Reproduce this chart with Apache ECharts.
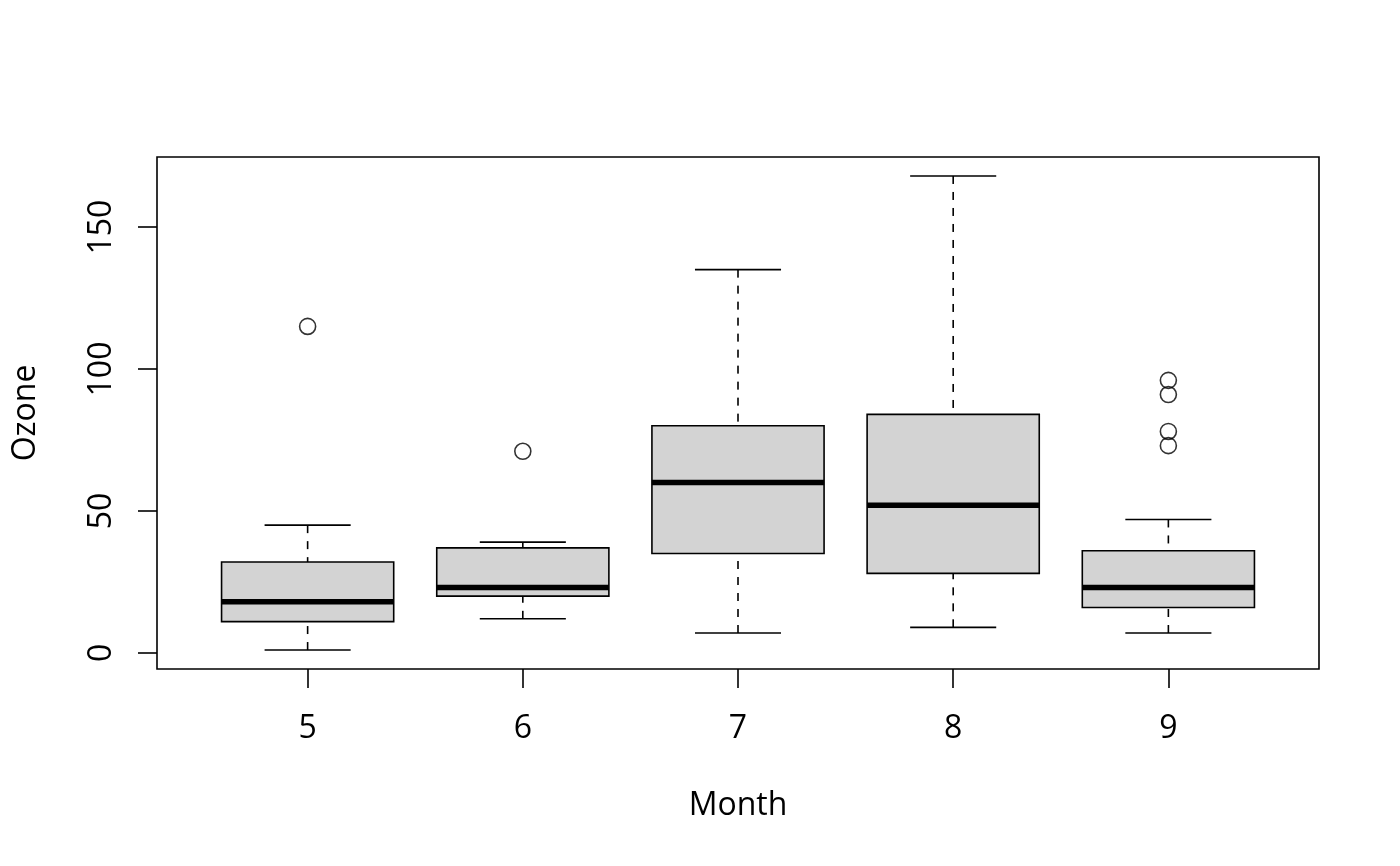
<!DOCTYPE html>
<html>
<head>
<meta charset="utf-8">
<title>Ozone by Month</title>
<script src="https://cdn.jsdelivr.net/npm/echarts@6/dist/echarts.min.js"></script>
<style>
  html, body { margin: 0; padding: 0; background: #fff; }
  #chart { width: 1400px; height: 866px; }
</style>
</head>
<body>
<div id="chart"></div>
<script>
// airquality: Ozone ~ Month
var months = ['5', '6', '7', '8', '9'];
var lowerWhisker = [1, 12, 7, 9, 7];
var q1 = [11, 20, 35, 28, 16];
var median = [18, 23, 60, 52, 23];
var q3 = [32, 37, 80, 84, 36];
var upperWhisker = [45, 39, 135, 168, 47];
// [month index (1-based), value]
var outliers = [[1, 115], [2, 71], [5, 96], [5, 91], [5, 78], [5, 73]];
var yTicks = [0, 50, 100, 150];

var chart = echarts.init(document.getElementById('chart'));

var boxData = months.map(function (m, i) {
    return [i + 1, lowerWhisker[i], q1[i], median[i], q3[i], upperWhisker[i]];
});

var font = '"Open Sans", "DejaVu Sans", sans-serif';
var lw = 1.6;

function renderBox(params, api) {
    var x = api.value(0);
    var halfBox = api.size([0.8, 0])[0] / 2;
    var halfCap = api.size([0.4, 0])[0] / 2;
    var pLow = api.coord([x, api.value(1)]);
    var pQ1 = api.coord([x, api.value(2)]);
    var pMed = api.coord([x, api.value(3)]);
    var pQ3 = api.coord([x, api.value(4)]);
    var pHigh = api.coord([x, api.value(5)]);
    var cx = pMed[0];
    var dash = { stroke: '#000', lineWidth: lw, lineDash: [8, 8] };
    var solid = { stroke: '#000', lineWidth: lw };
    return {
        type: 'group',
        children: [
            // whiskers drawn from the end toward the box, like R does
            { type: 'line', shape: { x1: cx, y1: pLow[1], x2: cx, y2: pQ1[1] }, style: dash },
            { type: 'line', shape: { x1: cx, y1: pHigh[1], x2: cx, y2: pQ3[1] }, style: dash },
            { type: 'line', shape: { x1: cx - halfCap, y1: pLow[1], x2: cx + halfCap, y2: pLow[1] }, style: solid },
            { type: 'line', shape: { x1: cx - halfCap, y1: pHigh[1], x2: cx + halfCap, y2: pHigh[1] }, style: solid },
            {
                type: 'rect',
                shape: { x: cx - halfBox, y: pQ3[1], width: halfBox * 2, height: pQ1[1] - pQ3[1] },
                style: { fill: '#d3d3d3', stroke: '#000', lineWidth: lw }
            },
            {
                type: 'line',
                shape: { x1: cx - halfBox, y1: pMed[1], x2: cx + halfBox, y2: pMed[1] },
                style: { stroke: '#000', lineWidth: 5.5 }
            }
        ]
    };
}

var option = {
    animation: false,
    backgroundColor: '#fff',
    grid: {
        left: 157, top: 157, width: 1162, height: 512,
        show: true, borderColor: '#000', borderWidth: lw, backgroundColor: 'transparent'
    },
    xAxis: {
        type: 'value',
        min: 0.3, max: 5.7,
        name: 'Month',
        nameLocation: 'middle',
        nameGap: 121,
        nameTextStyle: { fontFamily: font, fontSize: 32, color: '#000' },
        axisLine: { show: false, onZero: false },
        splitLine: { show: false },
        axisTick: { show: true, length: 19, customValues: [1, 2, 3, 4, 5], lineStyle: { color: '#000', width: lw } },
        axisLabel: {
            customValues: [1, 2, 3, 4, 5],
            margin: 44,
            fontFamily: font, fontSize: 32, color: '#000',
            formatter: function (v) { return months[Math.round(v) - 1]; }
        }
    },
    yAxis: {
        type: 'value',
        min: -5.68, max: 174.68,
        name: 'Ozone',
        nameLocation: 'middle',
        nameRotate: 90,
        nameGap: 115,
        nameTextStyle: { fontFamily: font, fontSize: 32, color: '#000' },
        axisLine: { show: false, onZero: false },
        splitLine: { show: false },
        axisTick: { show: true, length: 19, customValues: yTicks, lineStyle: { color: '#000', width: lw } },
        axisLabel: {
            customValues: yTicks,
            rotate: 90,
            margin: 39,
            fontFamily: font, fontSize: 32, color: '#000'
        }
    },
    series: [
        {
            type: 'custom',
            renderItem: renderBox,
            data: boxData,
            encode: { x: 0, y: [1, 2, 3, 4, 5] },
            silent: true
        },
        {
            type: 'scatter',
            data: outliers,
            symbol: 'circle',
            symbolSize: 16,
            itemStyle: { color: 'rgba(0,0,0,0)', borderColor: '#000', borderWidth: lw },
            silent: true
        }
    ]
};

chart.setOption(option);
</script>
</body>
</html>
